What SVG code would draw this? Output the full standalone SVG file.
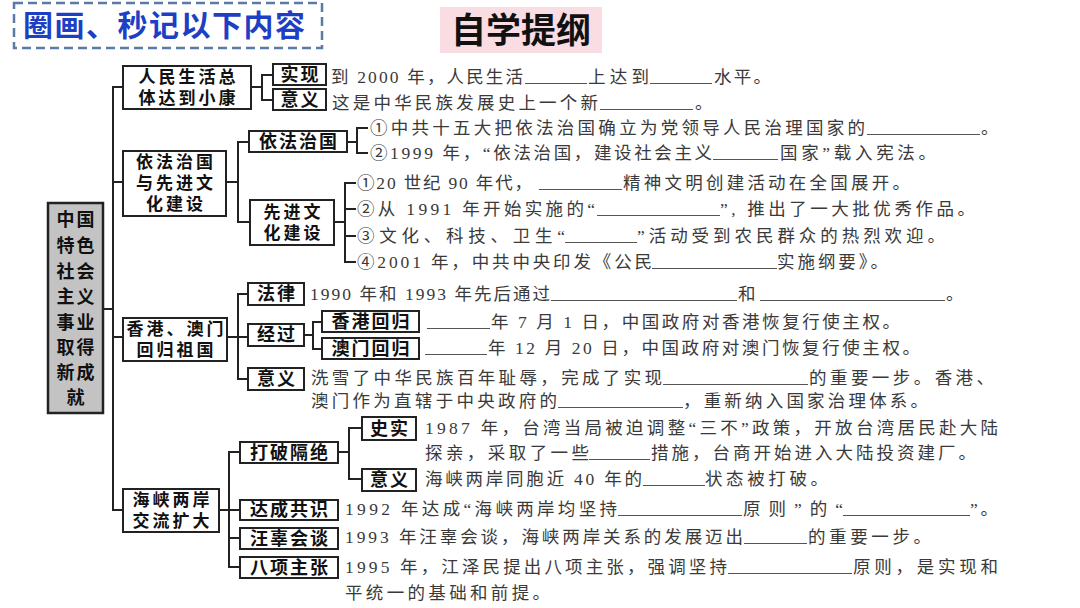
<svg xmlns="http://www.w3.org/2000/svg" width="1080" height="608" viewBox="0 0 1080 608">
<style>
.box{fill:#fff;stroke:#222;stroke-width:2}
.lbl{font-family:"Noto Sans CJK SC",sans-serif;font-weight:bold;font-size:18px;fill:#111;text-anchor:middle;letter-spacing:2px}
.ml{font-size:17px;letter-spacing:3px}
.t{font-family:"Liberation Serif","Noto Sans CJK SC",serif;font-size:17.5px;fill:#3a3a3a}
.u{stroke:#555;stroke-width:1.2}
.conn{fill:none;stroke:#222;stroke-width:2}
</style>
<rect width="1080" height="608" fill="#fff"/>
<g id="title">
<rect x="14" y="3" width="308" height="45" fill="none" stroke="#5a7aa8" stroke-width="2.5" stroke-dasharray="9 5"/>
<text x="23" y="36" font-family="'Noto Sans CJK SC',sans-serif" font-weight="bold" font-size="30" fill="#1e3fc4" textLength="282" lengthAdjust="spacing">圈画、秒记以下内容</text>
</g>
<g id="heading">
<rect x="440" y="7" width="162" height="46" fill="#f9dde3"/>
<text x="521" y="43" font-family="'Noto Sans CJK SC',sans-serif" font-weight="bold" font-size="35" fill="#111" text-anchor="middle">自学提纲</text>
</g>
<g id="connectors" class="conn">
<path d="M103,309 H113 M123,87 H113 V510 H123 M113,182 H123 M113,337 H123"/>
<path d="M251,87 H262 M273,75 H262 V100 H273"/>
<path d="M226,182 H238 M249,142 H238 V222 H250"/>
<path d="M347,142 H357 M368,128 H357 V153 H368"/>
<path d="M334,222 H345 M356,183 H345 V262 H356 M345,209 H356 M345,236 H356"/>
<path d="M227,337 H238 M248,294 H238 V379 H248 M238,337 H248"/>
<path d="M304,335 H313 M322,322 H313 V349 H322"/>
<path d="M219,510 H240 M240,452 H229 V567 H240 M229,538 H240"/>
<path d="M338,452 H349 M362,428 H349 V479 H362"/>
</g>
<g id="root">
<rect x="48" y="203" width="55" height="210" fill="#c3c3c3" stroke="#222" stroke-width="2.5"/>
<text class="lbl"><tspan x="76.5" y="226">中国</tspan><tspan x="76.5" y="252">特色</tspan><tspan x="76.5" y="278">社会</tspan><tspan x="76.5" y="303">主义</tspan><tspan x="76.5" y="329">事业</tspan><tspan x="76.5" y="354">取得</tspan><tspan x="76.5" y="379">新成</tspan><tspan x="76.5" y="404">就</tspan></text>
</g>
<g id="n1">
<rect class="box" x="123" y="66" width="128" height="43"/>
<text class="lbl ml"><tspan x="188.5" y="83">人民生活总</tspan><tspan x="188.5" y="104">体达到小康</tspan></text>
</g>
<g id="n1a"><rect class="box" x="273" y="64" width="53" height="21"/><text class="lbl" x="300.5" y="81">实现</text></g>
<g id="n1b"><rect class="box" x="273" y="89" width="53" height="21"/><text class="lbl" x="300.5" y="106">意义</text></g>
<g id="n2">
<rect class="box" x="123" y="151" width="103" height="65"/>
<text class="lbl ml"><tspan x="176" y="168">依法治国</tspan><tspan x="176" y="189">与先进文</tspan><tspan x="176" y="210">化建设</tspan></text>
</g>
<g id="n2a"><rect class="box" x="249" y="131" width="98" height="21"/><text class="lbl" x="299" y="148">依法治国</text></g>
<g id="n2b">
<rect class="box" x="250" y="200" width="84" height="45"/>
<text class="lbl ml"><tspan x="293.5" y="218">先进文</tspan><tspan x="293.5" y="239">化建设</tspan></text>
</g>
<g id="n3">
<rect class="box" x="123" y="318" width="104" height="43"/>
<text class="lbl ml"><tspan x="176.5" y="335">香港、澳门</tspan><tspan x="176.5" y="356">回归祖国</tspan></text>
</g>
<g id="n3a"><rect class="box" x="248" y="283" width="56" height="22"/><text class="lbl" x="277" y="300">法律</text></g>
<g id="n3b"><rect class="box" x="248" y="324" width="56" height="22"/><text class="lbl" x="277" y="341">经过</text></g>
<g id="n3c"><rect class="box" x="248" y="368" width="56" height="22"/><text class="lbl" x="277" y="385">意义</text></g>
<g id="n3b1"><rect class="box" x="322" y="311" width="97" height="21"/><text class="lbl" x="371.5" y="328">香港回归</text></g>
<g id="n3b2"><rect class="box" x="322" y="338" width="97" height="21"/><text class="lbl" x="371.5" y="355">澳门回归</text></g>
<g id="n4">
<rect class="box" x="123" y="489" width="96" height="43"/>
<text class="lbl ml"><tspan x="172.5" y="506">海峡两岸</tspan><tspan x="172.5" y="527">交流扩大</tspan></text>
</g>
<g id="n4a"><rect class="box" x="240" y="442" width="98" height="21"/><text class="lbl" x="290" y="459">打破隔绝</text></g>
<g id="n4b"><rect class="box" x="240" y="500" width="98" height="20"/><text class="lbl" x="290" y="516">达成共识</text></g>
<g id="n4c"><rect class="box" x="240" y="528" width="98" height="21"/><text class="lbl" x="290" y="545">汪辜会谈</text></g>
<g id="n4d"><rect class="box" x="240" y="557" width="98" height="21"/><text class="lbl" x="290" y="574">八项主张</text></g>
<g id="n4a1"><rect class="box" x="362" y="417" width="54" height="23"/><text class="lbl" x="390" y="435">史实</text></g>
<g id="n4a2"><rect class="box" x="362" y="469" width="54" height="22"/><text class="lbl" x="390" y="486">意义</text></g>
<g id="texts1">
<text class="t" x="331" y="83" textLength="192" lengthAdjust="spacing">到 2000 年，人民生活</text>
<line class="u" x1="525" y1="83.5" x2="587" y2="83.5"/>
<text class="t" x="588" y="83" textLength="61" lengthAdjust="spacing">上达到</text>
<line class="u" x1="650" y1="83.5" x2="712" y2="83.5"/>
<text class="t" x="714" y="83" textLength="57" lengthAdjust="spacing">水平。</text>
<text class="t" x="332" y="109" textLength="266" lengthAdjust="spacing">这是中华民族发展史上一个新</text>
<line class="u" x1="600" y1="109.5" x2="693" y2="109.5"/>
<text class="t" x="695" y="109">。</text>
</g>
<g id="texts2">
<text class="t" x="370" y="134" textLength="495" lengthAdjust="spacing">①中共十五大把依法治国确立为党领导人民治理国家的</text>
<line class="u" x1="867" y1="134.5" x2="980" y2="134.5"/>
<text class="t" x="981" y="134">。</text>
<text class="t" x="370" y="159" textLength="342" lengthAdjust="spacing">②1999 年，“依法治国，建设社会主义</text>
<line class="u" x1="713" y1="159.5" x2="778" y2="159.5"/>
<text class="t" x="780" y="159" textLength="156" lengthAdjust="spacing">国家”载入宪法。</text>
<text class="t" x="357" y="189" textLength="175" lengthAdjust="spacing">①20 世纪 90 年代，</text>
<line class="u" x1="539" y1="189.5" x2="622" y2="189.5"/>
<text class="t" x="623" y="189" textLength="287" lengthAdjust="spacing">精神文明创建活动在全国展开。</text>
<text class="t" x="357" y="215" textLength="238" lengthAdjust="spacing">②从 1991 年开始实施的“</text>
<line class="u" x1="597" y1="215.5" x2="720" y2="215.5"/>
<text class="t" x="720" y="215" textLength="255" lengthAdjust="spacing">”, 推出了一大批优秀作品。</text>
<text class="t" x="357" y="242" textLength="208" lengthAdjust="spacing">③文化、科技、卫生“</text>
<line class="u" x1="565" y1="242.5" x2="637" y2="242.5"/>
<text class="t" x="637" y="242" textLength="308" lengthAdjust="spacing">”活动受到农民群众的热烈欢迎。</text>
<text class="t" x="357" y="268" textLength="295" lengthAdjust="spacing">④2001 年，中共中央印发《公民</text>
<line class="u" x1="652" y1="268.5" x2="777" y2="268.5"/>
<text class="t" x="777" y="268" textLength="111" lengthAdjust="spacing">实施纲要》。</text>
</g>
<g id="texts3">
<text class="t" x="310" y="300" textLength="240" lengthAdjust="spacing">1990 年和 1993 年先后通过</text>
<line class="u" x1="551" y1="300.5" x2="737" y2="300.5"/>
<text class="t" x="738" y="300">和</text>
<line class="u" x1="760" y1="300.5" x2="945" y2="300.5"/>
<text class="t" x="946" y="300">。</text>
<line class="u" x1="427" y1="328.5" x2="490" y2="328.5"/>
<text class="t" x="491" y="328" textLength="409" lengthAdjust="spacing">年 7 月 1 日，中国政府对香港恢复行使主权。</text>
<line class="u" x1="425" y1="354.5" x2="487" y2="354.5"/>
<text class="t" x="488" y="354" textLength="432" lengthAdjust="spacing">年 12 月 20 日，中国政府对澳门恢复行使主权。</text>
<text class="t" x="311" y="384" textLength="351" lengthAdjust="spacing">洗雪了中华民族百年耻辱，完成了实现</text>
<line class="u" x1="663" y1="384.5" x2="808" y2="384.5"/>
<text class="t" x="809" y="384" textLength="185" lengthAdjust="spacing">的重要一步。香港、</text>
<text class="t" x="311" y="407" textLength="246" lengthAdjust="spacing">澳门作为直辖于中央政府的</text>
<line class="u" x1="558" y1="407.5" x2="683" y2="407.5"/>
<text class="t" x="683" y="407" textLength="245" lengthAdjust="spacing">，重新纳入国家治理体系。</text>
</g>
<g id="texts4">
<text class="t" x="425" y="434" textLength="573" lengthAdjust="spacing">1987 年，台湾当局被迫调整“三不”政策，开放台湾居民赴大陆</text>
<text class="t" x="425" y="459" textLength="164" lengthAdjust="spacing">探亲，采取了一些</text>
<line class="u" x1="589" y1="459.5" x2="650" y2="459.5"/>
<text class="t" x="651" y="459" textLength="325" lengthAdjust="spacing">措施，台商开始进入大陆投资建厂。</text>
<text class="t" x="425" y="485" textLength="217" lengthAdjust="spacing">海峡两岸同胞近 40 年的</text>
<line class="u" x1="643" y1="485.5" x2="705" y2="485.5"/>
<text class="t" x="705" y="485" textLength="123" lengthAdjust="spacing">状态被打破。</text>
<text class="t" x="345" y="515" textLength="272" lengthAdjust="spacing">1992 年达成“海峡两岸均坚持</text>
<line class="u" x1="618" y1="515.5" x2="742" y2="515.5"/>
<text class="t" x="743" y="515" textLength="100" lengthAdjust="spacing">原则”的“</text>
<line class="u" x1="843" y1="515.5" x2="970" y2="515.5"/>
<text class="t" x="970" y="515" textLength="28" lengthAdjust="spacing">”。</text>
<text class="t" x="345" y="543" textLength="398" lengthAdjust="spacing">1993 年汪辜会谈，海峡两岸关系的发展迈出</text>
<line class="u" x1="744" y1="543.5" x2="807" y2="543.5"/>
<text class="t" x="808" y="543" textLength="123" lengthAdjust="spacing">的重要一步。</text>
<text class="t" x="345" y="573" textLength="382" lengthAdjust="spacing">1995 年，江泽民提出八项主张，强调坚持</text>
<line class="u" x1="728" y1="573.5" x2="852" y2="573.5"/>
<text class="t" x="853" y="573" textLength="145" lengthAdjust="spacing">原则，是实现和</text>
<text class="t" x="345" y="599" textLength="205" lengthAdjust="spacing">平统一的基础和前提。</text>
</g>
</svg>
